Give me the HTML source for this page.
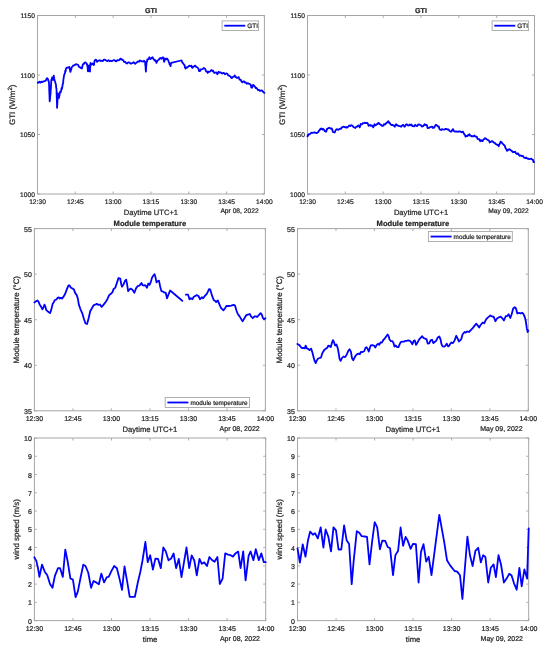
<!DOCTYPE html>
<html><head><meta charset="utf-8"><style>
html,body{margin:0;padding:0;background:#fff;}
svg{display:block;will-change:transform;}
text{font-family:"Liberation Sans", sans-serif;fill:#262626;stroke:#262626;stroke-width:0.22px;text-rendering:geometricPrecision;}
</style></head><body>
<svg width="550" height="648" viewBox="0 0 550 648">
<rect width="550" height="648" fill="#fff"/>
<g><rect x="37.5" y="15.5" width="226.9" height="178.5" fill="none" stroke="#a6a6a6" stroke-width="1"/>
<path d="M37.5 194v-2.5M37.5 15.5v2.5M75.32 194v-2.5M75.32 15.5v2.5M113.13 194v-2.5M113.13 15.5v2.5M150.95 194v-2.5M150.95 15.5v2.5M188.77 194v-2.5M188.77 15.5v2.5M226.58 194v-2.5M226.58 15.5v2.5M264.4 194v-2.5M264.4 15.5v2.5M37.5 194h2.5M264.4 194h-2.5M37.5 134.5h2.5M264.4 134.5h-2.5M37.5 75h2.5M264.4 75h-2.5M37.5 15.5h2.5M264.4 15.5h-2.5" stroke="#a6a6a6" stroke-width="0.9" fill="none"/>
<text x="37.5" y="204.3" text-anchor="middle" font-size="6.7">12:30</text>
<text x="75.32" y="204.3" text-anchor="middle" font-size="6.7">12:45</text>
<text x="113.13" y="204.3" text-anchor="middle" font-size="6.7">13:00</text>
<text x="150.95" y="204.3" text-anchor="middle" font-size="6.7">13:15</text>
<text x="188.77" y="204.3" text-anchor="middle" font-size="6.7">13:30</text>
<text x="226.58" y="204.3" text-anchor="middle" font-size="6.7">13:45</text>
<text x="264.4" y="204.3" text-anchor="middle" font-size="6.7">14:00</text>
<text x="34.9" y="196.9" text-anchor="end" font-size="6.7">1000</text>
<text x="34.9" y="137.4" text-anchor="end" font-size="6.7">1050</text>
<text x="34.9" y="77.9" text-anchor="end" font-size="6.7">1100</text>
<text x="34.9" y="18.4" text-anchor="end" font-size="6.7">1150</text>
<text x="258.7" y="213.2" text-anchor="end" font-size="6.7">Apr 08, 2022</text>
<text x="150.95" y="214.9" text-anchor="middle" font-size="7.6">Daytime UTC+1</text>
<text transform="translate(14.5 104.75) rotate(-90)" text-anchor="middle" font-size="7.95">GTI (W/m<tspan baseline-shift="3.4" font-size="6.1">2</tspan>)</text>
<text x="150.95" y="12.7" text-anchor="middle" font-size="7.1" font-weight="bold" fill="#000">GTI</text>
<polyline points="37.7,82.7 38.5,82.8 39.4,81.6 40.5,82.5 41.5,81.6 42.4,82.1 43.2,81.6 44.0,81.2 44.8,81.1 45.9,80.5 46.3,79.2 46.6,78.9 47.0,78.1 47.5,78.6 48.1,79.5 48.3,80.9 48.5,80.7 48.8,81.9 49.0,82.7 49.0,83.7 49.1,85.1 49.1,85.1 49.1,85.5 49.2,87.3 49.2,87.8 49.2,87.9 49.2,90.0 49.3,90.9 49.3,91.4 49.3,92.4 49.4,92.0 49.4,93.7 49.4,94.8 49.5,95.2 49.5,95.6 49.5,95.6 49.5,97.1 49.6,98.3 49.6,99.7 49.6,100.6 49.7,100.4 49.7,101.3 49.8,101.2 49.9,99.1 50.0,99.3 50.1,98.0 50.1,96.1 50.2,96.6 50.3,95.1 50.4,95.1 50.5,93.6 50.6,93.1 50.6,90.9 50.7,91.1 50.7,91.0 50.8,88.9 50.8,88.3 50.9,88.5 50.9,86.3 51.0,86.3 51.0,84.8 51.1,85.4 51.1,84.3 51.2,82.7 51.2,81.1 51.3,80.8 51.3,80.3 51.4,79.5 51.8,79.3 52.2,77.3 52.5,77.4 52.7,79.2 53.0,80.0 53.2,79.5 53.3,78.3 53.5,78.0 53.6,76.6 53.8,75.6 53.9,77.3 54.1,77.4 54.2,78.2 54.3,78.8 54.5,79.9 54.6,80.5 54.9,81.1 55.2,82.3 55.4,82.6 55.7,83.8 55.8,84.1 56.0,85.0 56.1,86.8 56.2,87.8 56.4,88.3 56.5,89.3 56.5,89.3 56.6,91.4 56.6,92.5 56.6,93.4 56.6,94.0 56.7,94.9 56.7,95.8 56.7,95.8 56.7,96.3 56.8,97.8 56.8,97.7 56.8,99.6 56.8,100.5 56.9,101.4 56.9,101.5 56.9,103.1 56.9,103.1 57.0,103.7 57.0,104.9 57.0,106.4 57.0,107.0 57.1,107.6 57.1,107.8 57.1,106.1 57.2,106.4 57.2,105.3 57.3,104.7 57.3,104.3 57.4,102.3 57.4,102.4 57.5,100.4 57.5,99.7 57.6,100.0 57.6,98.3 57.7,98.4 57.7,96.1 57.8,95.4 57.8,95.7 57.9,93.5 57.9,93.6 58.1,94.6 58.3,96.2 58.6,96.3 58.8,97.5 59.0,98.0 59.1,96.1 59.3,96.4 59.5,95.5 59.6,94.5 59.8,93.2 59.9,92.5 60.3,91.5 60.8,92.1 61.2,90.4 61.5,88.6 61.8,87.8 62.0,88.8 62.3,87.1 62.5,85.6 62.6,84.6 62.8,83.9 62.9,84.2 63.1,82.7 63.2,82.8 63.3,80.1 63.4,80.1 63.5,78.7 63.6,78.2 63.7,77.3 63.8,77.3 63.9,76.2 64.2,75.1 64.5,73.9 64.7,73.7 65.0,72.9 65.2,71.1 65.4,70.3 65.7,71.2 65.9,68.8 66.1,68.5 66.9,67.7 67.7,67.5 68.6,67.7 69.4,66.9 69.6,68.4 69.8,69.4 70.0,68.7 70.1,70.5 70.3,71.9 70.5,71.8 70.8,70.0 71.0,70.3 71.2,69.6 71.5,68.0 72.0,66.9 72.6,66.4 73.4,65.4 74.3,65.3 75.1,64.9 75.9,64.2 76.7,64.3 77.5,64.7 78.1,64.8 78.6,66.1 79.2,66.9 80.0,67.3 80.8,68.0 81.9,68.5 82.1,67.8 82.3,66.8 82.6,65.5 82.8,64.8 83.0,64.2 83.8,64.0 84.6,62.5 85.4,62.3 86.3,63.1 86.7,64.1 87.0,63.9 87.4,65.8 87.5,67.2 87.6,67.3 87.7,67.6 87.7,69.0 87.8,69.9 87.9,71.3 88.1,71.3 88.2,69.3 88.4,68.3 88.5,67.6 88.7,67.9 88.8,66.4 89.0,65.3 89.1,66.4 89.1,67.4 89.2,67.6 89.3,68.6 89.4,69.9 89.4,69.4 89.5,71.3 90.0,71.6 90.0,70.1 90.1,69.5 90.2,68.5 90.2,68.4 90.2,67.0 90.3,67.1 90.3,65.6 90.4,64.5 90.5,63.6 90.5,62.9 91.0,64.1 91.6,64.5 92.7,63.5 93.2,64.1 93.8,65.1 94.0,64.6 94.2,62.6 94.3,62.5 94.5,61.4 94.7,60.3 94.9,60.2 96.0,59.6 96.4,60.4 96.7,61.0 97.1,61.8 98.2,60.7 99.0,60.6 99.8,60.2 100.9,61.0 102.0,60.7 102.7,61.1 103.5,60.0 104.2,59.6 104.9,59.6 105.7,60.3 106.4,60.7 107.5,61.1 108.5,60.2 109.6,61.2 110.7,60.7 111.8,61.2 112.9,60.5 114.0,60.0 115.1,60.7 116.2,61.4 117.3,60.2 118.4,60.3 119.5,59.9 120.5,58.7 121.6,59.1 122.4,60.1 123.3,60.2 124.1,62.0 124.9,61.8 125.7,62.5 126.5,63.5 127.3,63.3 128.2,62.4 128.9,62.4 129.7,62.6 130.4,63.5 131.4,63.6 132.5,62.9 133.6,62.2 134.7,63.5 135.4,63.8 136.2,62.8 136.9,62.4 138.0,61.3 139.1,61.8 139.9,60.5 140.7,60.7 141.6,61.3 142.4,61.3 143.2,61.7 144.0,60.7 145.1,61.8 145.2,62.2 145.2,64.4 145.3,63.5 145.4,65.8 145.4,65.7 145.5,65.9 145.6,67.1 145.6,68.2 145.7,69.7 145.8,70.7 145.8,70.1 145.9,71.6 146.0,70.8 146.0,70.3 146.1,68.8 146.1,69.1 146.2,67.1 146.2,65.7 146.3,65.0 146.4,65.4 146.4,64.4 146.5,64.3 146.5,63.5 146.6,61.8 147.0,61.9 147.3,59.4 147.7,59.6 148.3,59.3 148.8,58.4 149.4,57.2 149.9,58.5 150.5,59.1 151.5,58.0 152.6,57.2 153.1,58.6 153.7,59.1 154.6,60.5 155.4,60.2 155.8,61.4 156.1,61.7 156.5,62.9 156.8,62.2 157.2,60.8 157.5,60.7 158.3,60.1 159.2,59.1 160.3,58.0 161.4,58.8 162.4,57.5 163.3,57.5 163.5,58.0 163.6,59.8 163.8,60.5 163.9,60.6 164.1,61.8 164.4,61.2 164.6,59.2 164.9,58.7 165.2,58.5 166.0,59.5 166.8,58.5 167.9,59.6 168.2,60.1 168.5,61.1 168.9,62.3 169.2,62.7 169.5,64.0 169.9,64.7 170.2,64.9 170.6,66.2 170.8,64.5 170.9,63.9 171.0,63.8 171.2,62.9 181.0,60.5 181.5,60.4 182.1,61.9 182.6,62.9 183.2,63.3 183.7,64.2 184.3,65.1 184.6,65.2 184.9,67.7 185.3,67.7 185.6,68.6 186.5,67.3 187.3,67.7 188.1,66.7 189.2,65.6 190.3,66.2 191.4,65.6 191.8,67.3 192.1,66.8 192.5,67.8 193.5,66.7 194.3,66.1 195.2,65.6 196.0,66.7 196.8,67.1 197.4,67.6 197.9,67.9 198.5,68.9 198.8,70.1 199.2,71.2 199.5,71.1 200.1,71.1 200.6,69.5 201.8,69.4 202.7,69.0 203.6,68.0 204.5,68.4 205.4,69.2 205.8,71.0 206.2,71.2 206.6,71.8 207.2,71.5 207.8,73.0 208.4,71.6 209.0,71.8 209.9,71.7 210.8,70.6 211.7,70.0 212.6,71.2 213.2,70.8 213.8,72.2 214.4,73.0 215.3,72.7 216.2,72.4 216.8,73.2 217.4,74.2 217.8,73.4 218.2,72.8 218.6,71.8 219.5,72.5 220.4,72.4 221.3,72.8 222.2,73.6 223.1,73.0 224.0,73.0 224.9,74.3 225.8,73.6 226.7,73.4 227.6,74.2 228.2,75.4 228.8,75.3 229.4,76.0 230.0,76.3 230.6,76.3 231.2,77.8 232.1,78.0 233.0,76.8 233.9,76.5 234.8,75.4 235.4,77.0 236.0,76.9 236.6,77.8 237.5,77.9 238.4,77.2 238.8,77.2 239.2,78.6 239.6,79.6 240.2,79.6 240.8,79.9 241.4,81.4 242.3,82.3 243.2,81.4 244.1,81.4 245.0,82.6 245.9,82.5 246.8,83.8 247.7,83.1 248.6,83.6 249.5,83.8 250.4,84.4 250.7,85.2 251.0,85.2 251.3,87.6 251.6,87.4 252.2,87.6 252.8,85.1 253.4,85.0 254.0,85.4 254.6,86.6 255.2,86.8 255.8,88.2 256.4,88.0 257.0,88.6 257.9,90.0 258.8,89.8 259.4,90.0 260.0,91.0 260.9,90.7 261.8,90.4 262.4,91.0 263.0,91.6 263.7,92.5 264.4,92.8" fill="none" stroke="#0000ff" stroke-width="1.8" stroke-linejoin="round" stroke-linecap="round"/>
<rect x="222.1" y="20.9" width="36.5" height="9.6" fill="#fff" stroke="#a6a6a6" stroke-width="0.9"/>
<line x1="224.3" y1="25.7" x2="245.3" y2="25.7" stroke="#0000ff" stroke-width="1.8"/>
<text x="247.3" y="28.39" font-size="6.4">GTI</text></g>
<g><rect x="307.5" y="15.5" width="227" height="178.5" fill="none" stroke="#a6a6a6" stroke-width="1"/>
<path d="M307.5 194v-2.5M307.5 15.5v2.5M345.33 194v-2.5M345.33 15.5v2.5M383.17 194v-2.5M383.17 15.5v2.5M421 194v-2.5M421 15.5v2.5M458.83 194v-2.5M458.83 15.5v2.5M496.67 194v-2.5M496.67 15.5v2.5M534.5 194v-2.5M534.5 15.5v2.5M307.5 194h2.5M534.5 194h-2.5M307.5 134.5h2.5M534.5 134.5h-2.5M307.5 75h2.5M534.5 75h-2.5M307.5 15.5h2.5M534.5 15.5h-2.5" stroke="#a6a6a6" stroke-width="0.9" fill="none"/>
<text x="307.5" y="204.3" text-anchor="middle" font-size="6.7">12:30</text>
<text x="345.33" y="204.3" text-anchor="middle" font-size="6.7">12:45</text>
<text x="383.17" y="204.3" text-anchor="middle" font-size="6.7">13:00</text>
<text x="421" y="204.3" text-anchor="middle" font-size="6.7">13:15</text>
<text x="458.83" y="204.3" text-anchor="middle" font-size="6.7">13:30</text>
<text x="496.67" y="204.3" text-anchor="middle" font-size="6.7">13:45</text>
<text x="534.5" y="204.3" text-anchor="middle" font-size="6.7">14:00</text>
<text x="304.9" y="196.9" text-anchor="end" font-size="6.7">1000</text>
<text x="304.9" y="137.4" text-anchor="end" font-size="6.7">1050</text>
<text x="304.9" y="77.9" text-anchor="end" font-size="6.7">1100</text>
<text x="304.9" y="18.4" text-anchor="end" font-size="6.7">1150</text>
<text x="528.8" y="213.2" text-anchor="end" font-size="6.7">May 09, 2022</text>
<text x="421" y="214.9" text-anchor="middle" font-size="7.6">Daytime UTC+1</text>
<text transform="translate(284.5 104.75) rotate(-90)" text-anchor="middle" font-size="7.95">GTI (W/m<tspan baseline-shift="3.4" font-size="6.1">2</tspan>)</text>
<text x="421" y="12.7" text-anchor="middle" font-size="7.1" font-weight="bold" fill="#000">GTI</text>
<polyline points="307.5,136.3 307.9,134.8 308.4,135.5 308.8,134.1 309.8,134.2 310.7,133.3 311.6,132.6 312.6,132.8 313.6,132.6 314.5,132.5 315.5,132.7 316.5,133.1 317.7,132.5 318.4,131.8 319.0,130.5 319.6,130.3 320.3,129.0 321.2,128.4 322.2,129.5 323.1,128.8 324.1,129.9 324.7,131.2 325.4,131.0 326.0,131.8 326.4,131.4 326.9,128.9 327.3,129.0 328.2,128.2 329.2,127.7 330.5,128.6 331.7,128.3 332.0,129.6 332.4,129.5 332.7,131.8 333.0,131.8 334.3,132.5 334.9,132.3 335.5,130.5 336.4,129.4 337.2,129.2 338.1,129.9 339.1,129.3 340.0,128.6 340.9,128.9 341.9,127.4 343.2,126.7 344.1,126.8 345.1,127.4 346.1,127.0 347.0,127.7 347.6,127.0 348.3,126.7 349.2,125.5 350.2,126.1 351.1,125.2 352.1,125.5 352.8,126.1 353.4,127.0 354.4,127.5 355.3,128.0 356.2,126.8 357.2,126.7 357.9,125.6 358.5,125.5 359.1,125.9 359.7,127.4 360.0,126.5 360.4,125.4 360.7,124.0 361.0,124.2 361.9,124.4 362.9,123.2 363.9,123.1 364.8,122.7 365.8,123.1 366.7,122.9 367.4,122.9 368.0,124.2 368.6,125.8 369.3,125.5 370.0,124.8 370.9,125.9 371.9,125.5 372.5,125.7 373.2,127.4 373.5,126.3 373.9,126.2 374.2,125.4 374.5,124.2 375.4,125.4 376.4,124.8 377.0,124.0 377.7,124.2 378.3,122.9 379.5,123.5 380.1,124.5 380.8,124.8 381.5,125.1 382.1,126.1 382.7,125.6 383.4,125.6 384.0,124.2 384.9,124.5 385.9,123.5 386.5,122.9 387.2,122.4 387.8,121.6 388.5,121.3 389.1,122.9 389.8,123.0 390.4,124.2 391.4,125.1 392.3,124.8 393.5,125.5 394.1,125.9 394.8,126.7 395.2,125.2 395.7,125.1 396.1,124.2 397.1,125.3 398.0,125.5 398.9,126.1 399.9,126.1 401.2,126.7 401.8,125.8 402.5,125.3 403.1,124.8 403.8,125.8 404.4,126.7 405.0,126.4 405.7,125.1 406.3,124.2 407.2,124.6 408.2,125.5 409.0,125.4 409.9,124.4 410.7,125.2 411.6,124.6 412.4,126.2 413.3,126.1 414.2,126.4 415.2,124.8 416.1,125.6 417.1,126.1 417.7,125.3 418.4,124.3 419.0,124.4 419.9,124.8 420.9,125.2 421.9,126.6 422.8,126.1 423.4,126.0 424.1,124.9 424.7,124.2 425.6,125.2 426.6,124.8 426.9,125.1 427.2,126.4 427.6,128.1 427.9,128.0 428.9,127.9 429.8,127.4 430.8,127.0 431.7,126.7 432.4,126.9 433.0,128.0 433.6,127.5 434.3,127.6 434.9,126.1 435.9,124.7 436.9,125.3 437.9,126.5 438.8,126.5 439.1,127.9 439.5,128.9 439.8,129.4 440.1,129.7 441.1,130.0 442.0,129.1 442.9,129.4 443.9,129.7 444.9,129.4 445.8,128.8 446.8,129.1 447.7,129.7 448.6,129.5 449.6,131.0 450.9,131.6 451.5,131.5 452.2,130.1 452.8,129.1 453.2,129.3 453.7,130.6 454.1,131.4 455.1,131.5 456.0,131.6 456.9,131.5 457.9,131.9 458.9,131.3 459.8,131.4 460.8,131.9 461.7,132.3 463.0,131.6 463.4,132.7 463.9,133.6 464.3,134.2 464.7,134.9 465.1,134.9 465.5,136.7 466.5,135.9 467.5,136.1 468.1,134.8 468.8,135.0 469.4,134.2 470.0,135.6 470.6,135.5 471.6,136.4 472.5,136.1 473.5,136.4 474.5,135.5 475.4,136.7 476.4,136.7 476.9,136.9 477.4,138.7 477.8,139.0 478.3,139.3 478.9,139.1 479.6,139.6 480.2,141.2 481.1,140.2 482.1,141.2 482.7,141.1 483.4,139.4 484.0,139.3 484.9,138.2 485.9,138.6 486.9,139.5 487.8,139.9 488.3,140.2 488.8,140.3 489.2,141.2 489.7,142.5 490.6,141.9 491.6,141.2 492.6,141.2 493.5,142.5 494.5,142.6 495.5,143.7 496.2,144.3 497.0,144.9 497.9,144.7 498.3,145.4 498.7,146.2 499.1,144.9 499.5,144.3 499.9,143.5 500.5,141.7 501.1,141.9 501.8,142.5 502.4,143.5 503.2,144.1 504.0,145.1 504.4,145.2 504.8,145.7 505.2,147.2 505.9,149.0 506.5,149.2 506.8,150.1 507.1,150.9 508.1,150.0 509.1,149.2 510.1,149.6 511.0,150.5 511.8,150.9 512.6,152.0 513.4,151.9 514.6,152.1 515.2,151.7 515.9,153.3 517.1,154.1 517.9,153.3 518.7,154.5 519.5,155.8 520.8,155.4 522.0,156.2 522.8,155.9 523.6,157.0 524.5,158.0 525.3,158.2 526.1,157.5 526.9,158.2 527.8,158.8 528.6,158.6 529.4,159.2 530.2,159.0 531.4,158.6 532.0,159.3 532.6,159.9 533.1,160.0 533.6,162.2 534.1,161.9" fill="none" stroke="#0000ff" stroke-width="1.8" stroke-linejoin="round" stroke-linecap="round"/>
<rect x="492.1" y="20.9" width="36.5" height="9.6" fill="#fff" stroke="#a6a6a6" stroke-width="0.9"/>
<line x1="494.3" y1="25.7" x2="515.3" y2="25.7" stroke="#0000ff" stroke-width="1.8"/>
<text x="517.3" y="28.39" font-size="6.4">GTI</text></g>
<g><rect x="34.4" y="228.6" width="231" height="182.2" fill="none" stroke="#a6a6a6" stroke-width="1"/>
<path d="M34.4 410.8v-2.5M34.4 228.6v2.5M72.9 410.8v-2.5M72.9 228.6v2.5M111.4 410.8v-2.5M111.4 228.6v2.5M149.9 410.8v-2.5M149.9 228.6v2.5M188.4 410.8v-2.5M188.4 228.6v2.5M226.9 410.8v-2.5M226.9 228.6v2.5M265.4 410.8v-2.5M265.4 228.6v2.5M34.4 410.8h2.5M265.4 410.8h-2.5M34.4 365.25h2.5M265.4 365.25h-2.5M34.4 319.7h2.5M265.4 319.7h-2.5M34.4 274.15h2.5M265.4 274.15h-2.5M34.4 228.6h2.5M265.4 228.6h-2.5" stroke="#a6a6a6" stroke-width="0.9" fill="none"/>
<text x="34.4" y="421.1" text-anchor="middle" font-size="7.0">12:30</text>
<text x="72.9" y="421.1" text-anchor="middle" font-size="7.0">12:45</text>
<text x="111.4" y="421.1" text-anchor="middle" font-size="7.0">13:00</text>
<text x="149.9" y="421.1" text-anchor="middle" font-size="7.0">13:15</text>
<text x="188.4" y="421.1" text-anchor="middle" font-size="7.0">13:30</text>
<text x="226.9" y="421.1" text-anchor="middle" font-size="7.0">13:45</text>
<text x="265.4" y="421.1" text-anchor="middle" font-size="7.0">14:00</text>
<text x="31.8" y="413.81" text-anchor="end" font-size="7.0">35</text>
<text x="31.8" y="368.26" text-anchor="end" font-size="7.0">40</text>
<text x="31.8" y="322.71" text-anchor="end" font-size="7.0">45</text>
<text x="31.8" y="277.16" text-anchor="end" font-size="7.0">50</text>
<text x="31.8" y="231.61" text-anchor="end" font-size="7.0">55</text>
<text x="259.7" y="430.8" text-anchor="end" font-size="7.0">Apr 08, 2022</text>
<text x="149.9" y="431.7" text-anchor="middle" font-size="7.7">Daytime UTC+1</text>
<text transform="translate(19.2 319.7) rotate(-90)" text-anchor="middle" font-size="7.95">Module temperature (°C)</text>
<text x="149.9" y="225.8" text-anchor="middle" font-size="7.6" font-weight="bold" fill="#000">Module temperature</text>
<polyline points="34.4,302.5 35.8,301.4 37.5,300.5 38.5,301.6 39.6,304.4 41.3,307.1 42.4,309.3 43.5,307.1 44.5,304.7 45.3,306.5 46.2,309.8 47.8,311.5 50,313.1 51.1,310.4 52.7,303.8 53.8,302.2 54.9,300 56.5,299.5 57.6,297.8 58.7,297.3 59.8,298.6 60.9,297.8 62,298.6 63.6,296.7 65.3,293.5 66.9,289.1 68.5,285.3 69.6,285.3 70.7,287.5 72.4,288.5 74,289.6 75.1,292.9 76.7,295.1 77.8,298.4 78.9,304.9 80.5,309.3 82.2,313.1 83.8,318.5 85.5,323.5 87.1,324 88.7,318 90.2,311.3 91.8,308.5 93.5,305.3 95.1,304.7 96.7,303.9 98.4,304.9 100,304.5 101.6,306.9 102.7,305.8 104.4,303.6 106,301.5 107.6,298.7 109.3,294.9 110.9,293.8 112.5,292.2 113.6,288.9 115.3,287.8 116.9,282.9 118.5,278 120.2,278.5 121.3,284.5 122,286.7 123.5,284.5 125.1,280.7 126.2,279.6 127.3,285.6 128.1,291.1 129.5,289.5 130.5,288.6 132.2,289.5 133.3,291.1 134.4,292.7 136,288.4 137.6,286.2 139.3,285.6 140.4,284.5 141.5,282.9 142.5,285.1 144.2,285.6 145,285.1 146.1,286.2 147,287.8 148.3,283.5 149.6,284.9 151,281.3 152.1,277.5 153.2,275.8 154.6,274.2 155.4,276.9 156.5,282.4 157.5,281.3 159,280.7 160.3,287.3 161.4,291.1 163,291.6 164.6,292.7 165.7,292.7 167,298.4 168.5,294.4 170.1,290.5 173.4,293.3 176.6,296 179.9,298.7 182.4,300.9" fill="none" stroke="#0000ff" stroke-width="1.8" stroke-linejoin="round" stroke-linecap="round"/>
<polyline points="185.9,294.7 188.1,294.7 189.5,299.3 190.8,298.2 192.5,299.1 193.5,297.1 195.2,296 196.8,295.1 198.5,296 200.1,299.3 201.8,297.2 203,298.4 204.8,296 206.6,294.2 207.8,291.8 209,289.2 210.2,289.4 211.4,293.6 212.6,297.2 213.8,300.2 215,300.8 216.2,302 217.8,300.4 219.2,303.8 221,308 222.2,309.2 223.4,310.4 225.2,308 226.4,306 228.8,306 231.2,305.6 233.6,304.8 235,305.6 236.6,311 237.8,314 239.6,316.4 241.4,319.4 242.6,321.2 244.4,318.2 246.2,315.2 248,314.6 249.8,314 251,316.4 252.8,318.2 254.6,316.4 255.8,316.4 257,317 258.8,315.2 260.6,313.2 261.8,314.6 263,318.2 264.2,319.4 265.4,318.2" fill="none" stroke="#0000ff" stroke-width="1.8" stroke-linejoin="round" stroke-linecap="round"/>
<rect x="165.2" y="397.5" width="84.3" height="10" fill="#fff" stroke="#a6a6a6" stroke-width="0.9"/>
<line x1="167.4" y1="402.5" x2="188.4" y2="402.5" stroke="#0000ff" stroke-width="1.8"/>
<text x="190.4" y="405.19" font-size="6.4">module temperature</text></g>
<g><rect x="297.5" y="228.6" width="230.8" height="182.2" fill="none" stroke="#a6a6a6" stroke-width="1"/>
<path d="M297.5 410.8v-2.5M297.5 228.6v2.5M335.97 410.8v-2.5M335.97 228.6v2.5M374.43 410.8v-2.5M374.43 228.6v2.5M412.9 410.8v-2.5M412.9 228.6v2.5M451.37 410.8v-2.5M451.37 228.6v2.5M489.83 410.8v-2.5M489.83 228.6v2.5M528.3 410.8v-2.5M528.3 228.6v2.5M297.5 410.8h2.5M528.3 410.8h-2.5M297.5 365.25h2.5M528.3 365.25h-2.5M297.5 319.7h2.5M528.3 319.7h-2.5M297.5 274.15h2.5M528.3 274.15h-2.5M297.5 228.6h2.5M528.3 228.6h-2.5" stroke="#a6a6a6" stroke-width="0.9" fill="none"/>
<text x="297.5" y="421.1" text-anchor="middle" font-size="7.0">12:30</text>
<text x="335.97" y="421.1" text-anchor="middle" font-size="7.0">12:45</text>
<text x="374.43" y="421.1" text-anchor="middle" font-size="7.0">13:00</text>
<text x="412.9" y="421.1" text-anchor="middle" font-size="7.0">13:15</text>
<text x="451.37" y="421.1" text-anchor="middle" font-size="7.0">13:30</text>
<text x="489.83" y="421.1" text-anchor="middle" font-size="7.0">13:45</text>
<text x="528.3" y="421.1" text-anchor="middle" font-size="7.0">14:00</text>
<text x="294.9" y="413.81" text-anchor="end" font-size="7.0">35</text>
<text x="294.9" y="368.26" text-anchor="end" font-size="7.0">40</text>
<text x="294.9" y="322.71" text-anchor="end" font-size="7.0">45</text>
<text x="294.9" y="277.16" text-anchor="end" font-size="7.0">50</text>
<text x="294.9" y="231.61" text-anchor="end" font-size="7.0">55</text>
<text x="522.6" y="430.8" text-anchor="end" font-size="7.0">May 09, 2022</text>
<text x="412.9" y="431.7" text-anchor="middle" font-size="7.7">Daytime UTC+1</text>
<text transform="translate(282.3 319.7) rotate(-90)" text-anchor="middle" font-size="7.95">Module temperature (°C)</text>
<text x="412.9" y="225.8" text-anchor="middle" font-size="7.6" font-weight="bold" fill="#000">Module temperature</text>
<polyline points="297.4,344 299.4,345.1 301,347.3 302.1,348.1 303.7,347.8 304.8,348.4 305.7,345.6 306.8,348.4 308.1,348.9 309.4,350 311.1,348.6 312.5,352.7 313.5,357.1 314.6,360.9 315.7,363.1 316.8,360.4 317.9,358.7 319.5,358 321,357.6 322.3,353.3 323.9,350.5 325.5,348.9 327.2,347.8 328.3,345.6 329.7,346.2 330.8,347.1 331.9,342.9 333,340.2 334.1,342.4 335.1,345.6 336.5,344.5 337.8,348.4 338.6,352.7 339.5,358.7 340.6,360.9 341.9,358.2 343.5,356.5 345.2,357.1 346.8,354.4 348.2,351.1 349.5,349.2 350.9,351.6 352,358.2 353.3,360.2 354.4,358 355.5,355.8 357.1,354.2 358.7,353.6 359.8,354.2 360.9,352 362.5,352 364.2,351.2 365.3,348.2 366.4,347.1 367.5,348.7 368.8,351.5 369.6,348.7 370.7,345.5 372.4,345.1 374,345.5 375.3,347.6 376.7,344.9 378.1,343.8 379.2,344.9 380.5,342.5 381.9,342.7 383.3,340 384.7,338.6 386,336.7 387.6,334.5 388.7,336.2 389.5,339.5 390.9,341.1 392.3,341.1 393.4,342.7 394.5,346.5 395.8,345.5 397.1,347.1 398.5,347.1 399.6,344.4 400.7,342.2 402.4,341.6 404,341.6 405.6,340.8 406.6,340.9 408.3,340.4 409.9,340.9 411,342 412.4,344.2 413.7,340.9 414.8,340.4 416.1,344.9 417.5,342.5 419.2,339.3 420.8,337.6 422.2,336.2 423.5,338 425.2,338.7 426.6,339.3 427.7,343.6 429.2,343.4 430.6,340.4 432.1,339.8 433.4,343.1 434.7,342 436.1,340.9 437.7,337.6 439.4,336.5 440.5,339.3 441.5,344.2 442.6,346.4 444.1,346.7 445.4,345.8 446.7,343.6 448.1,346.4 449.2,345.8 450.3,343.6 451.4,342.5 453,343.1 454.6,340.4 456.3,335.8 457.4,338.2 459,341.5 460.6,339.8 461.3,339 462.5,334.5 464.5,332 465.7,332.6 467,331.4 468.9,332 470.8,330.1 472.7,328.2 474.6,325.6 476.3,323.7 477.8,325.6 479.1,327.5 480.6,325 482.7,322.5 484.2,323.3 486.1,319.3 488,317.4 490.5,315.5 492.5,316.7 493.7,316.7 495.4,321.2 496.9,318.6 498.8,317.4 500.7,316.7 502.6,318.6 503.9,320.5 505.8,316.1 507.3,316.1 508.6,314.2 510.3,318 511.5,314.8 513.2,308.5 514.7,307.2 516,308.5 517.3,313.5 519.2,312.9 520.8,313.5 522.1,312.7 523.4,313.9 524.9,317.4 525.9,321.8 526.8,328.2 527.7,332 528.3,330.5" fill="none" stroke="#0000ff" stroke-width="1.8" stroke-linejoin="round" stroke-linecap="round"/>
<rect x="428.4" y="231.5" width="83.9" height="10.1" fill="#fff" stroke="#a6a6a6" stroke-width="0.9"/>
<line x1="430.6" y1="236.55" x2="451.6" y2="236.55" stroke="#0000ff" stroke-width="1.8"/>
<text x="453.6" y="239.24" font-size="6.4">module temperature</text></g>
<g><rect x="34.4" y="438" width="231.3" height="182.6" fill="none" stroke="#a6a6a6" stroke-width="1"/>
<path d="M34.4 620.6v-2.5M34.4 438v2.5M72.95 620.6v-2.5M72.95 438v2.5M111.5 620.6v-2.5M111.5 438v2.5M150.05 620.6v-2.5M150.05 438v2.5M188.6 620.6v-2.5M188.6 438v2.5M227.15 620.6v-2.5M227.15 438v2.5M265.7 620.6v-2.5M265.7 438v2.5M34.4 620.6h2.5M265.7 620.6h-2.5M34.4 602.34h2.5M265.7 602.34h-2.5M34.4 584.08h2.5M265.7 584.08h-2.5M34.4 565.82h2.5M265.7 565.82h-2.5M34.4 547.56h2.5M265.7 547.56h-2.5M34.4 529.3h2.5M265.7 529.3h-2.5M34.4 511.04h2.5M265.7 511.04h-2.5M34.4 492.78h2.5M265.7 492.78h-2.5M34.4 474.52h2.5M265.7 474.52h-2.5M34.4 456.26h2.5M265.7 456.26h-2.5M34.4 438h2.5M265.7 438h-2.5" stroke="#a6a6a6" stroke-width="0.9" fill="none"/>
<text x="34.4" y="630.9" text-anchor="middle" font-size="7.0">12:30</text>
<text x="72.95" y="630.9" text-anchor="middle" font-size="7.0">12:45</text>
<text x="111.5" y="630.9" text-anchor="middle" font-size="7.0">13:00</text>
<text x="150.05" y="630.9" text-anchor="middle" font-size="7.0">13:15</text>
<text x="188.6" y="630.9" text-anchor="middle" font-size="7.0">13:30</text>
<text x="227.15" y="630.9" text-anchor="middle" font-size="7.0">13:45</text>
<text x="265.7" y="630.9" text-anchor="middle" font-size="7.0">14:00</text>
<text x="31.8" y="623.61" text-anchor="end" font-size="7.0">0</text>
<text x="31.8" y="605.35" text-anchor="end" font-size="7.0">1</text>
<text x="31.8" y="587.09" text-anchor="end" font-size="7.0">2</text>
<text x="31.8" y="568.83" text-anchor="end" font-size="7.0">3</text>
<text x="31.8" y="550.57" text-anchor="end" font-size="7.0">4</text>
<text x="31.8" y="532.31" text-anchor="end" font-size="7.0">5</text>
<text x="31.8" y="514.05" text-anchor="end" font-size="7.0">6</text>
<text x="31.8" y="495.79" text-anchor="end" font-size="7.0">7</text>
<text x="31.8" y="477.53" text-anchor="end" font-size="7.0">8</text>
<text x="31.8" y="459.27" text-anchor="end" font-size="7.0">9</text>
<text x="31.8" y="441.01" text-anchor="end" font-size="7.0">10</text>
<text x="260" y="641.1" text-anchor="end" font-size="7.0">Apr 08, 2022</text>
<text x="150.05" y="641.5" text-anchor="middle" font-size="7.7">time</text>
<text transform="translate(19.2 529.3) rotate(-90)" text-anchor="middle" font-size="7.95">wind speed (m/s)</text>
<polyline points="34.4,557.3 36.4,561.1 38,568.2 39.4,576.9 42,564.7 44.9,572 47.3,575.3 50,584 52.5,587.8 54.9,575.8 58,568.2 60.1,568.2 62.8,576.9 65.3,549.6 67.5,560.5 70.4,578.5 72.9,579.6 75.6,597.1 77.8,591.6 80.5,578 83.3,564.7 85.5,566 88.2,572.5 91.1,587.8 93.5,581 96.2,582.4 98.9,584.3 101.3,573.6 104.1,582.4 106.8,577.1 108.7,576.9 111.5,570.9 114.2,566 116.9,568.2 119.6,579.1 122,589.8 124.5,566.5 127.3,582.4 129.7,596.8 134.9,596.8 137.6,583.5 140.4,571.5 142.5,560.5 145.4,542 147.7,562.2 150.2,555.3 152.9,569.5 155.4,558.6 158.1,558.9 160.8,568.2 163.3,547.5 165.7,551.3 168.5,560.3 171.2,558.4 173.6,553.5 176.1,568.2 178.8,558.9 181.5,577.1 184.1,561.6 186.5,547.5 189.2,568.2 191.7,555.3 194.3,560.5 196.8,575.3 199.5,558.9 201.8,563.8 204.2,562.4 207,566 209.4,557 212,560 214.6,561.8 217.4,557 219.8,584 222.6,578.6 225.2,553.4 228.2,554.6 230.6,555.2 233,556.6 235.4,553.4 238.2,551.6 240.6,568.2 243.2,551.4 245.6,580.4 248.6,555.8 250.6,551.4 253.4,560.2 255.8,549.2 258.8,560.2 261.4,553.4 263.8,562.2 265.7,562.2" fill="none" stroke="#0000ff" stroke-width="1.8" stroke-linejoin="round" stroke-linecap="round"/></g>
<g><rect x="297.5" y="438" width="231.2" height="182.6" fill="none" stroke="#a6a6a6" stroke-width="1"/>
<path d="M297.5 620.6v-2.5M297.5 438v2.5M336.03 620.6v-2.5M336.03 438v2.5M374.57 620.6v-2.5M374.57 438v2.5M413.1 620.6v-2.5M413.1 438v2.5M451.63 620.6v-2.5M451.63 438v2.5M490.17 620.6v-2.5M490.17 438v2.5M528.7 620.6v-2.5M528.7 438v2.5M297.5 620.6h2.5M528.7 620.6h-2.5M297.5 602.34h2.5M528.7 602.34h-2.5M297.5 584.08h2.5M528.7 584.08h-2.5M297.5 565.82h2.5M528.7 565.82h-2.5M297.5 547.56h2.5M528.7 547.56h-2.5M297.5 529.3h2.5M528.7 529.3h-2.5M297.5 511.04h2.5M528.7 511.04h-2.5M297.5 492.78h2.5M528.7 492.78h-2.5M297.5 474.52h2.5M528.7 474.52h-2.5M297.5 456.26h2.5M528.7 456.26h-2.5M297.5 438h2.5M528.7 438h-2.5" stroke="#a6a6a6" stroke-width="0.9" fill="none"/>
<text x="297.5" y="630.9" text-anchor="middle" font-size="7.0">12:30</text>
<text x="336.03" y="630.9" text-anchor="middle" font-size="7.0">12:45</text>
<text x="374.57" y="630.9" text-anchor="middle" font-size="7.0">13:00</text>
<text x="413.1" y="630.9" text-anchor="middle" font-size="7.0">13:15</text>
<text x="451.63" y="630.9" text-anchor="middle" font-size="7.0">13:30</text>
<text x="490.17" y="630.9" text-anchor="middle" font-size="7.0">13:45</text>
<text x="528.7" y="630.9" text-anchor="middle" font-size="7.0">14:00</text>
<text x="294.9" y="623.61" text-anchor="end" font-size="7.0">0</text>
<text x="294.9" y="605.35" text-anchor="end" font-size="7.0">1</text>
<text x="294.9" y="587.09" text-anchor="end" font-size="7.0">2</text>
<text x="294.9" y="568.83" text-anchor="end" font-size="7.0">3</text>
<text x="294.9" y="550.57" text-anchor="end" font-size="7.0">4</text>
<text x="294.9" y="532.31" text-anchor="end" font-size="7.0">5</text>
<text x="294.9" y="514.05" text-anchor="end" font-size="7.0">6</text>
<text x="294.9" y="495.79" text-anchor="end" font-size="7.0">7</text>
<text x="294.9" y="477.53" text-anchor="end" font-size="7.0">8</text>
<text x="294.9" y="459.27" text-anchor="end" font-size="7.0">9</text>
<text x="294.9" y="441.01" text-anchor="end" font-size="7.0">10</text>
<text x="523" y="641.1" text-anchor="end" font-size="7.0">May 09, 2022</text>
<text x="413.1" y="641.5" text-anchor="middle" font-size="7.7">time</text>
<text transform="translate(282.3 529.3) rotate(-90)" text-anchor="middle" font-size="7.95">wind speed (m/s)</text>
<polyline points="297.5,548.3 299.9,562.5 302.7,544.3 305.5,556.7 308,540.2 310.1,531.6 312.9,534.7 315,533.2 317.8,538.4 320.7,527.3 323.4,547.7 325.6,529.5 328.3,536.5 331,551.4 333.5,527.3 336,530.4 338.5,549.5 341.3,549.5 344.1,525.4 346.6,540.2 349.1,544 351.7,584.1 353.7,560.6 356.8,531.2 359.3,532.8 361.7,536.2 364.6,536.5 367,536.9 369.5,564.3 372.2,540.9 374.7,522.1 377.2,527.3 379.9,549.3 382.3,540.6 385.2,540.9 387.7,547 390.1,548.3 393,575.2 395.4,555.1 398.1,550.7 400.6,527.5 403.1,545.8 405.6,536.9 407.5,540.1 410.6,548.8 413,543.8 415.9,544.2 418.6,582.5 421,551.9 423.5,544.2 426.2,561.7 428.7,556.8 431.5,575.2 439.3,514.8 444.3,542.6 447,560.2 450.1,565.4 454.6,571 457.2,571.6 460,575.2 462.4,599 467.4,536.7 470,555.5 472.6,566 475.4,550.9 478.2,547.8 480.8,562.4 483.1,555.2 485.4,557 488.2,582.5 490.8,567.8 493.6,564.4 495.9,577.1 498.5,555.2 500.9,564 503.9,582.5 506.6,578.6 509.3,573.7 511.6,575.5 514,583.3 516.7,589.7 519.4,567.8 521.7,586.3 524.4,569.4 527.1,578.6 528.7,528.5" fill="none" stroke="#0000ff" stroke-width="1.8" stroke-linejoin="round" stroke-linecap="round"/></g>
</svg></body></html>
